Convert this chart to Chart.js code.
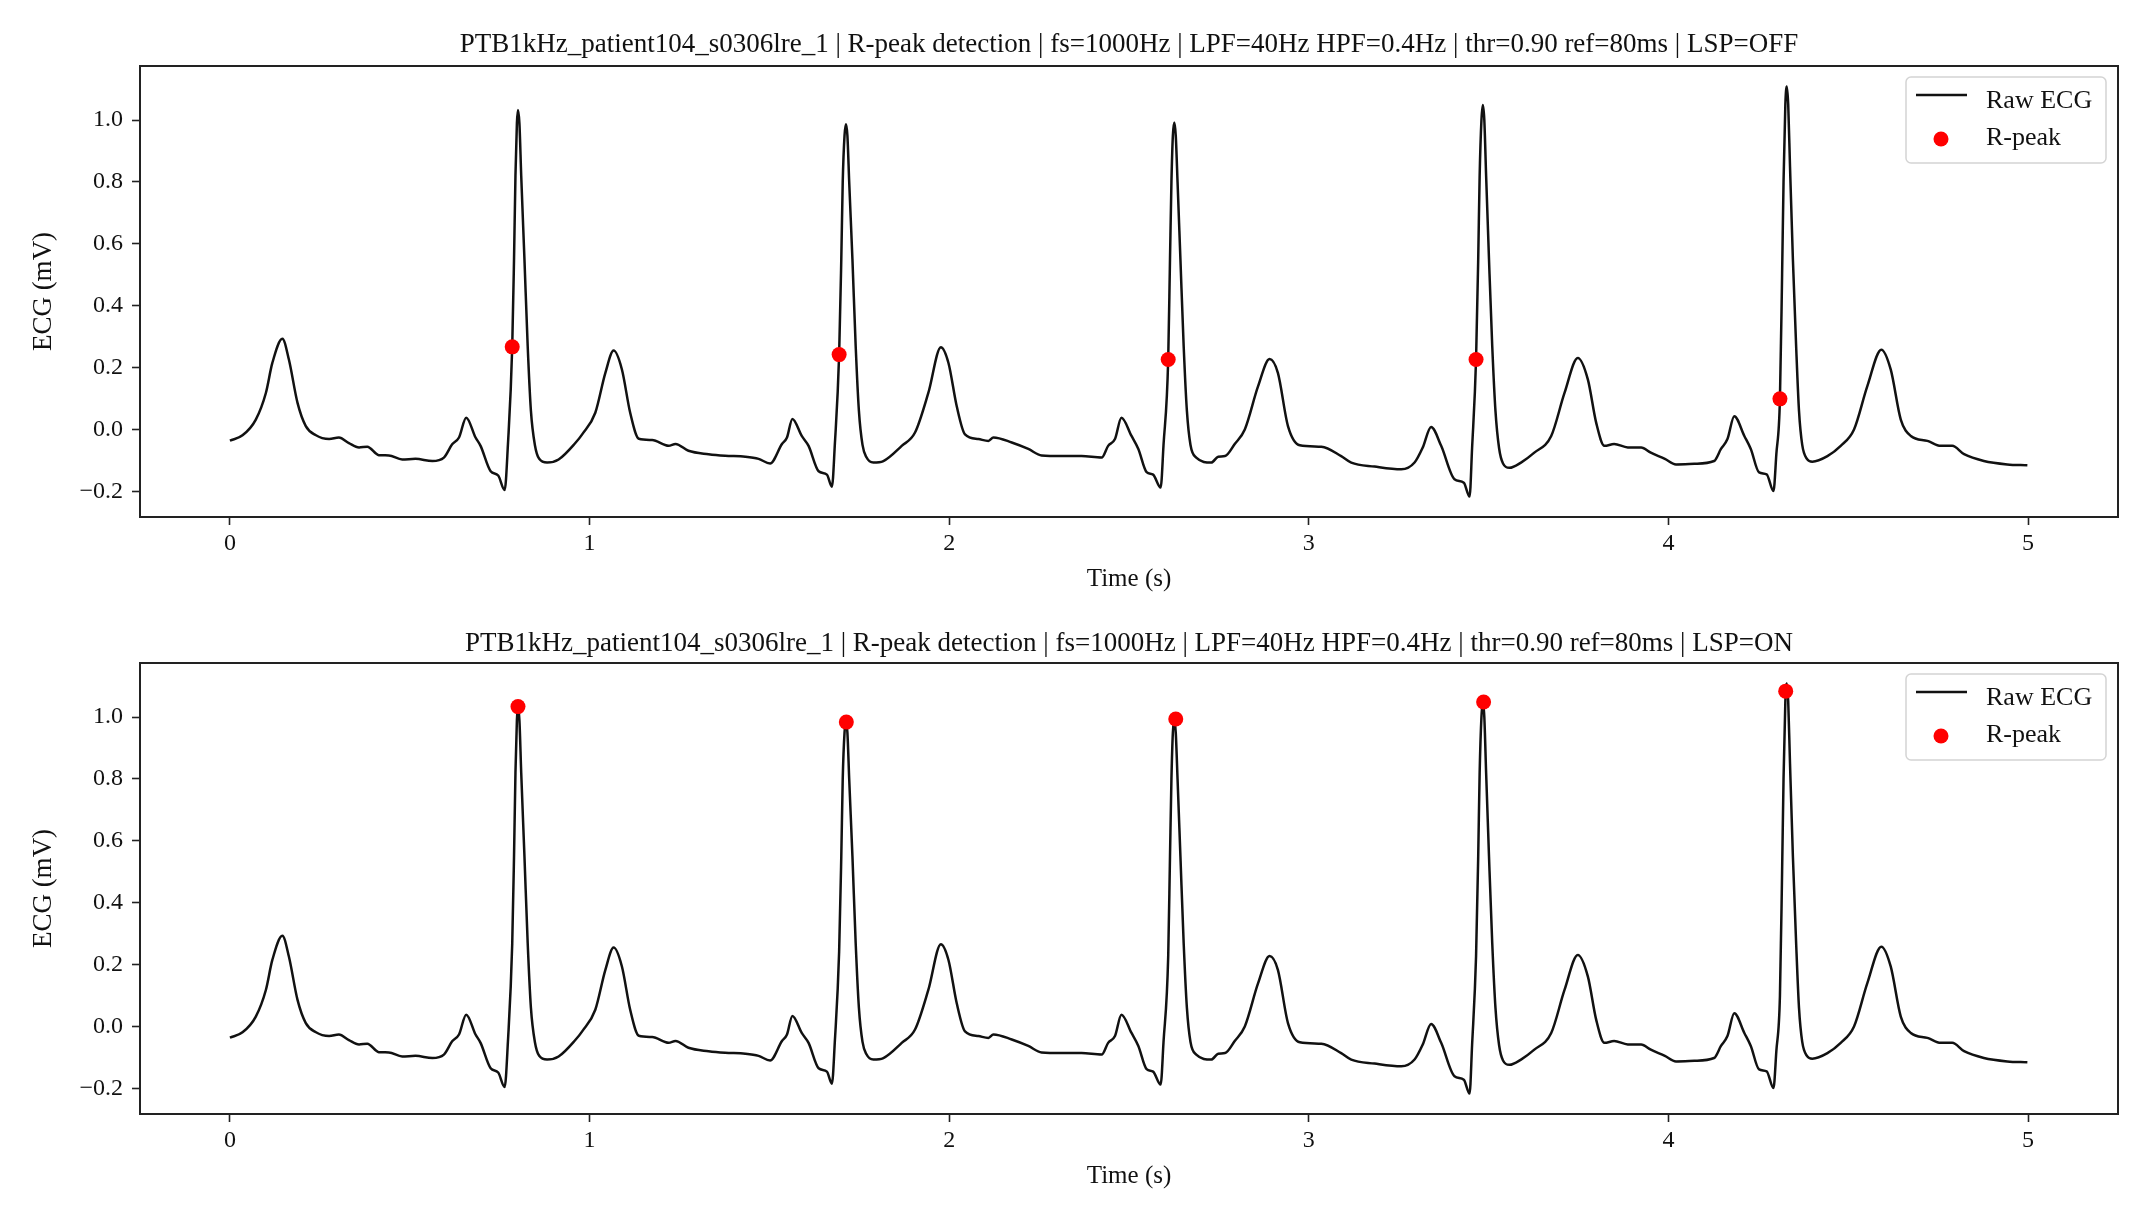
<!DOCTYPE html>
<html>
<head>
<meta charset="utf-8">
<title>R-peak detection</title>
<script src="https://cdn.jsdelivr.net/npm/chart.js@4.4.1/dist/chart.umd.min.js"></script>
<style>
  html, body { margin: 0; padding: 0; background: #fff; }
  body { width: 2146px; height: 1218px; position: relative; overflow: hidden; }
  canvas { position: absolute; left: 0; }
  #ecgOff { top: 0; }
  #ecgOn { top: 597px; }
</style>
</head>
<body>
<canvas id="ecgOff" width="2146" height="597"></canvas>
<canvas id="ecgOn" width="2146" height="597"></canvas>
<script>
// raw ECG trace (time in s, amplitude in mV)
var ecgTime = [
  0.000, 0.035, 0.072, 0.100, 0.118, 0.146, 0.164, 0.188, 0.211, 0.238,
  0.276, 0.303, 0.331, 0.359, 0.382, 0.414, 0.442, 0.479, 0.516, 0.563,
  0.595, 0.618, 0.637, 0.657, 0.683, 0.697, 0.725, 0.746, 0.764, 0.773,
  0.785, 0.790, 0.794, 0.798, 0.801, 0.805, 0.810, 0.819, 0.828, 0.837,
  0.848, 0.860, 0.882, 0.914, 0.961, 0.980, 1.016, 1.044, 1.067, 1.090,
  1.113, 1.137, 1.174, 1.220, 1.239, 1.275, 1.331, 1.377, 1.433, 1.470,
  1.502, 1.535, 1.549, 1.564, 1.590, 1.609, 1.637, 1.660, 1.674, 1.682,
  1.694, 1.700, 1.704, 1.709, 1.713, 1.717, 1.722, 1.731, 1.740, 1.749,
  1.759, 1.770, 1.789, 1.817, 1.868, 1.905, 1.942, 1.977, 1.998, 2.021,
  2.044, 2.081, 2.109, 2.123, 2.174, 2.220, 2.257, 2.313, 2.368, 2.424,
  2.442, 2.461, 2.479, 2.507, 2.526, 2.549, 2.567, 2.588, 2.596, 2.609,
  2.614, 2.618, 2.622, 2.626, 2.630, 2.635, 2.643, 2.652, 2.661, 2.671,
  2.687, 2.729, 2.748, 2.767, 2.794, 2.822, 2.859, 2.891, 2.914, 2.942,
  2.975, 3.035, 3.090, 3.118, 3.183, 3.257, 3.294, 3.317, 3.340, 3.368,
  3.405, 3.431, 3.447, 3.454, 3.465, 3.471, 3.475, 3.480, 3.484, 3.488,
  3.493, 3.501, 3.510, 3.519, 3.529, 3.540, 3.558, 3.590, 3.627, 3.674,
  3.711, 3.748, 3.776, 3.799, 3.822, 3.849, 3.887, 3.924, 3.951, 3.990,
  4.021, 4.072, 4.127, 4.146, 4.164, 4.183, 4.211, 4.229, 4.252, 4.273,
  4.292, 4.300, 4.310, 4.316, 4.320, 4.325, 4.329, 4.333, 4.338, 4.346,
  4.355, 4.363, 4.372, 4.385, 4.400, 4.442, 4.479, 4.516, 4.553, 4.592,
  4.618, 4.646, 4.674, 4.720, 4.757, 4.789, 4.822, 4.877, 4.942, 4.998
];
var ecgMv = [
  -0.036, -0.019, 0.032, 0.118, 0.215, 0.293, 0.226, 0.086, 0.011, -0.018,
  -0.031, -0.026, -0.044, -0.058, -0.056, -0.083, -0.084, -0.097, -0.095, -0.102,
  -0.091, -0.048, -0.026, 0.038, -0.026, -0.053, -0.135, -0.149, -0.196, -0.050,
  0.267, 0.550, 0.820, 0.990, 1.033, 0.990, 0.820, 0.550, 0.270, 0.060,
  -0.050, -0.095, -0.107, -0.097, -0.043, -0.015, 0.054, 0.183, 0.255, 0.194,
  0.054, -0.030, -0.034, -0.053, -0.047, -0.069, -0.080, -0.085, -0.088, -0.095,
  -0.110, -0.047, -0.026, 0.034, -0.021, -0.053, -0.135, -0.146, -0.185, -0.050,
  0.242, 0.550, 0.800, 0.950, 0.987, 0.950, 0.800, 0.550, 0.270, 0.060,
  -0.050, -0.090, -0.107, -0.102, -0.053, -0.010, 0.118, 0.266, 0.215, 0.075,
  -0.016, -0.031, -0.037, -0.026, -0.042, -0.063, -0.084, -0.086, -0.086, -0.091,
  -0.053, -0.031, 0.038, -0.021, -0.063, -0.138, -0.146, -0.188, -0.050, 0.226,
  0.550, 0.800, 0.950, 0.992, 0.950, 0.800, 0.550, 0.270, 0.060, -0.050,
  -0.091, -0.107, -0.088, -0.086, -0.047, 0.000, 0.140, 0.228, 0.183, 0.011,
  -0.051, -0.056, -0.086, -0.107, -0.120, -0.129, -0.107, -0.058, 0.008, -0.053,
  -0.161, -0.172, -0.217, -0.060, 0.226, 0.550, 0.820, 1.000, 1.049, 1.000,
  0.820, 0.550, 0.270, 0.060, -0.060, -0.110, -0.124, -0.107, -0.075, -0.021,
  0.118, 0.231, 0.161, 0.022, -0.053, -0.047, -0.058, -0.058, -0.075, -0.095,
  -0.113, -0.111, -0.102, -0.063, -0.031, 0.043, -0.021, -0.063, -0.139, -0.145,
  -0.199, -0.080, 0.099, 0.500, 0.800, 1.050, 1.109, 1.050, 0.850, 0.550,
  0.270, 0.060, -0.050, -0.095, -0.104, -0.086, -0.053, 0.000, 0.140, 0.258,
  0.194, 0.032, -0.021, -0.037, -0.053, -0.053, -0.080, -0.102, -0.113, -0.116
];

// detected R-peaks, LSP off (top) and LSP on (bottom)
var peakTimeOff = [0.785, 1.694, 2.609, 3.465, 4.310];
var peakMvOff = [0.267, 0.242, 0.226, 0.226, 0.099];
var peakTimeOn = [0.801, 1.714, 2.630, 3.486, 4.326];
var peakMvOn = [1.034, 0.984, 0.994, 1.049, 1.084];

var titleBase = 'PTB1kHz_patient104_s0306lre_1 | R-peak detection | fs=1000Hz | LPF=40Hz HPF=0.4Hz | thr=0.90 ref=80ms | LSP=';

var serif = 'Liberation Serif';
var ink = '#111';

// axes box on all four sides, like matplotlib spines
var frame = {
  id: 'frame',
  afterDatasetsDraw: function(chart) {
    var a = chart.chartArea, ctx = chart.ctx;
    ctx.save();
    ctx.strokeStyle = '#222';
    ctx.lineWidth = 2;
    ctx.strokeRect(a.left, a.top, a.right - a.left, a.bottom - a.top);
    ctx.restore();
  }
};

// title centred over the axes, not over the whole canvas
var axesTitle = {
  id: 'axesTitle',
  afterDraw: function(chart, args, opts) {
    var a = chart.chartArea, ctx = chart.ctx;
    ctx.save();
    ctx.fillStyle = ink;
    ctx.font = '27px "' + serif + '"';
    ctx.textAlign = 'center';
    ctx.textBaseline = 'middle';
    ctx.fillText(opts.text, (a.left + a.right) / 2, opts.y);
    ctx.restore();
  }
};

// legend box in the upper right corner of the plot
var cornerLegend = {
  id: 'cornerLegend',
  afterDraw: function(chart) {
    var a = chart.chartArea, ctx = chart.ctx;
    var ds = chart.data.datasets;
    var w = 200, h = 86;
    var x = a.right - 12 - w, y = a.top + 11;
    ctx.save();
    ctx.beginPath();
    ctx.roundRect(x, y, w, h, 5);
    ctx.fillStyle = 'rgba(255,255,255,0.85)';
    ctx.fill();
    ctx.strokeStyle = '#d4d4d4';
    ctx.lineWidth = 1.5;
    ctx.stroke();

    ctx.beginPath();
    ctx.moveTo(x + 10, y + 18);
    ctx.lineTo(x + 61, y + 18);
    ctx.strokeStyle = ds[0].borderColor;
    ctx.lineWidth = ds[0].borderWidth;
    ctx.stroke();

    ctx.beginPath();
    ctx.arc(x + 35, y + 62, 7.5, 0, Math.PI * 2);
    ctx.fillStyle = ds[1].backgroundColor;
    ctx.fill();

    ctx.fillStyle = ink;
    ctx.font = '26px "' + serif + '"';
    ctx.textAlign = 'left';
    ctx.textBaseline = 'alphabetic';
    ctx.fillText(ds[0].label, x + 80, y + 31);
    ctx.fillText(ds[1].label, x + 80, y + 68);
    ctx.restore();
  }
};

function points(xs, ys) {
  return xs.map(function(t, i) { return {x: t, y: ys[i]}; });
}

function makeChart(id, mode, peakT, peakV, titleY) {
  return new Chart(document.getElementById(id), {
    type: 'line',
    data: {
      datasets: [{
        label: 'Raw ECG',
        data: points(ecgTime, ecgMv),
        borderColor: ink,
        borderWidth: 2.5,
        pointRadius: 0,
        cubicInterpolationMode: 'monotone',
        fill: false,
        order: 2
      }, {
        label: 'R-peak',
        type: 'scatter',
        data: points(peakT, peakV),
        backgroundColor: '#ff0000',
        borderWidth: 0,
        pointRadius: 7.5,
        order: 1
      }]
    },
    options: {
      responsive: false,
      devicePixelRatio: 1,
      animation: false,
      events: [],
      layout: { padding: { left: 0, right: 28, top: 66, bottom: 0 } },
      scales: {
        x: {
          type: 'linear',
          min: -0.25,
          max: 5.25,
          border: { display: false },
          grid: { drawOnChartArea: false, drawTicks: true, tickLength: 8, tickWidth: 1.6, tickColor: '#222' },
          ticks: {
            stepSize: 1,
            includeBounds: false,
            padding: 4,
            maxRotation: 0,
            color: ink,
            font: { family: serif, size: 24 },
            callback: function(v) { return String(Math.round(v)); }
          },
          title: { display: true, text: 'Time (s)', color: ink, font: { family: serif, size: 25 }, padding: { top: 0, bottom: 3 } },
          afterFit: function(s) { s.height = 80; }
        },
        y: {
          min: -0.283,
          max: 1.175,
          border: { display: false },
          grid: { drawOnChartArea: false, drawTicks: true, tickLength: 8, tickWidth: 1.6, tickColor: '#222' },
          ticks: {
            stepSize: 0.2,
            includeBounds: false,
            padding: 9,
            color: ink,
            font: { family: serif, size: 24 },
            callback: function(v) { return v.toFixed(1).replace('-', '\u2212'); }
          },
          title: { display: true, text: 'ECG (mV)', color: ink, font: { family: serif, size: 27 }, padding: { top: 28, bottom: 0 } },
          afterFit: function(s) { s.width = 140; }
        }
      },
      plugins: {
        legend: { display: false },
        tooltip: { enabled: false },
        title: { display: false },
        axesTitle: { text: titleBase + mode, y: titleY }
      }
    },
    plugins: [frame, axesTitle, cornerLegend]
  });
}

makeChart('ecgOff', 'OFF', peakTimeOff, peakMvOff, 45);
makeChart('ecgOn', 'ON', peakTimeOn, peakMvOn, 47);
</script>
</body>
</html>
